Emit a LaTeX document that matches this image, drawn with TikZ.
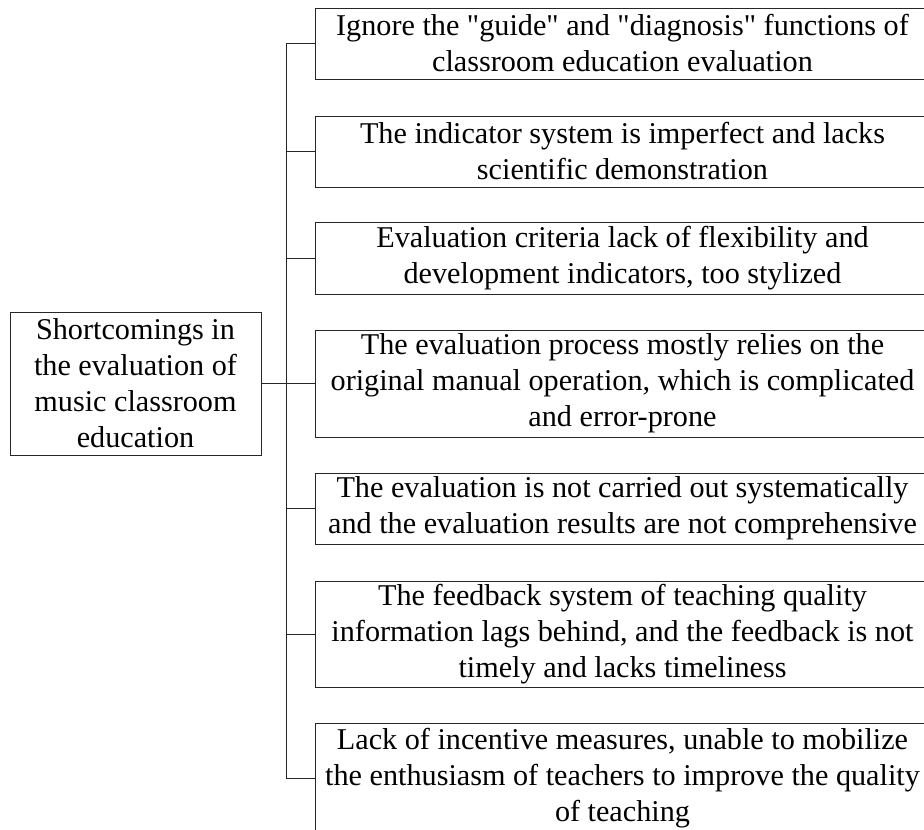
\documentclass[tikz,border=0pt]{standalone}
\usepackage{fontspec}
\setmainfont{Liberation Serif}[Ligatures=TeXOff]
\begin{document}
\begin{tikzpicture}[x=1pt,y=-1pt,
  box/.style={draw=black!85, line width=1pt, rectangle, inner sep=0pt,
    align=center, font=\fontsize{30.2}{36}\selectfont},
  item/.style={box, minimum width=615pt},
  link/.style={draw=black!85, line width=1pt}]
\useasboundingbox (0,0) rectangle (924,830);
\begin{scope}
\clip (0,0) rectangle (924,830);
% root box
\node[box, minimum width=251pt, minimum height=143pt] (root) at (135.5,383.5)
  {Shortcomings in\\the evaluation of\\music classroom\\education};
% list of shortcomings
\node[item, minimum height=71pt] (b1) at (622.5,43.5)
  {Ignore the "guide" and "diagnosis" functions of\\classroom education evaluation};
\node[item, minimum height=71pt] (b2) at (622.5,151.5)
  {The indicator system is imperfect and lacks\\scientific demonstration};
\node[item, minimum height=72pt] (b3) at (622.5,258)
  {Evaluation criteria lack of flexibility and\\development indicators, too stylized};
\node[item, minimum height=107pt] (b4) at (622.5,383.5)
  {The evaluation process mostly relies on the\\original manual operation, which is complicated\\and error-prone};
\node[item, minimum height=71pt] (b5) at (622.5,508.5)
  {The evaluation is not carried out systematically\\and the evaluation results are not comprehensive};
\node[item, minimum height=106pt] (b6) at (622.5,634)
  {The feedback system of teaching quality\\information lags behind, and the feedback is not\\timely and lacks timeliness};
\node[item, minimum height=110pt] (b7) at (622.5,778)
  {Lack of incentive measures, unable to mobilize\\the enthusiasm of teachers to improve the quality\\of teaching};
% connectors
\draw[link] (b1.west) -- ++(-28,0) |- (b7.west);
\foreach \b in {b2,b3,b5,b6} \draw[link] (\b.west) -- ++(-28,0);
\draw[link] (root.east) -- (b4.west);
\end{scope}
\end{tikzpicture}
\end{document}
